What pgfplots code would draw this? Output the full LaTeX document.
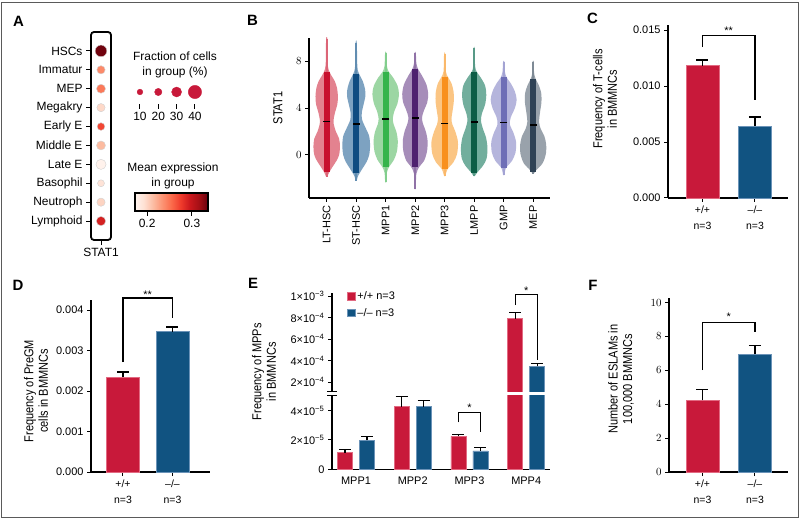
\documentclass[border=0pt]{standalone}
\usepackage{fontspec}
\setmainfont{Liberation Sans}
\newfontfamily\narrowfont[FakeStretch=0.85]{Liberation Sans}
\usepackage{pgfplots}
\pgfplotsset{compat=1.18}
\usepackage{pgfplotstable}

\definecolor{cred}{HTML}{C8193A}
\definecolor{credl}{HTML}{E26A82}
\definecolor{cblue}{HTML}{115381}
\definecolor{cbluel}{HTML}{6B93B8}
\definecolor{framegray}{HTML}{5A5A5A}
% Reds colormap
\definecolor{r0}{RGB}{255,245,240}
\definecolor{r1}{RGB}{254,224,210}
\definecolor{r2}{RGB}{252,187,161}
\definecolor{r3}{RGB}{252,146,114}
\definecolor{r4}{RGB}{251,106,74}
\definecolor{r5}{RGB}{239,59,44}
\definecolor{r6}{RGB}{203,24,29}
\definecolor{r7}{RGB}{165,15,21}
\definecolor{r8}{RGB}{103,0,13}
\pgfplotsset{colormap={reds}{color=(r0) color=(r1) color=(r2) color=(r3) color=(r4) color=(r5) color=(r6) color=(r7) color=(r8)}}
\pgfdeclarehorizontalshading{redsh}{100bp}{color(0bp)=(r0); color(25bp)=(r0); color(31.25bp)=(r1); color(37.5bp)=(r2); color(43.75bp)=(r3); color(50bp)=(r4); color(56.25bp)=(r5); color(62.5bp)=(r6); color(68.75bp)=(r7); color(75bp)=(r8); color(100bp)=(r8)}

% violin colours
\definecolor{v1}{HTML}{C8102E}\definecolor{v1l}{HTML}{E3828F}
\definecolor{v2}{HTML}{0F4C81}\definecolor{v2l}{HTML}{7DA2C1}
\definecolor{v3}{HTML}{35B44B}\definecolor{v3l}{HTML}{9CD6A3}
\definecolor{v4}{HTML}{4E216F}\definecolor{v4l}{HTML}{A68DB9}
\definecolor{v5}{HTML}{F8901E}\definecolor{v5l}{HTML}{FBC583}
\definecolor{v6}{HTML}{0C5E46}\definecolor{v6l}{HTML}{72AE9D}
\definecolor{v7}{HTML}{6E6EB6}\definecolor{v7l}{HTML}{B5B5DC}
\definecolor{v8}{HTML}{2F4255}\definecolor{v8l}{HTML}{99A2AB}

\tikzset{brk/.style={line width=1.1bp, black},
  letter/.style={font=\fontsize{15}{15}\selectfont\bfseries}}
\pgfplotsset{
  ebar/.style={error bars/.cd, y dir=plus, y explicit,
    error bar style={line width=1.2bp, black},
    error mark options={line width=1.2bp, black, mark size=6bp, rotate=90}},
  barax/.style={anchor=south west, scale only axis, axis x line*=bottom, axis y line*=left,
    tick align=outside, major tick length=4bp, axis line style={line width=1.2bp},
    tick style={black, line width=1bp}, scaled y ticks=false,
    xtick={0,1}, xticklabels={{+/+\\n=3},{–/–\\n=3}},
    xticklabel style={align=center, font=\fontsize{10.5}{16}\selectfont},
    yticklabel style={font=\fontsize{11}{12}\selectfont},
    ylabel style={anchor=center, align=center, font=\narrowfont\fontsize{13}{14.5}\selectfont},
    clip=false},
  rbar/.style={ybar, bar width=33bp, bar shift=0pt, fill=cred, draw=credl, line width=0.8bp, ebar},
  bbar/.style={ybar, bar width=33bp, bar shift=0pt, fill=cblue, draw=cbluel, line width=0.8bp, ebar},
  rbarE/.style={ybar, bar width=15bp, bar shift=0pt, fill=cred, draw=credl, line width=0.8bp, ebar},
  bbarE/.style={ybar, bar width=15bp, bar shift=0pt, fill=cblue, draw=cbluel, line width=0.8bp, ebar},
  sq legend/.style={legend image code/.code={\draw[##1, line width=0.6bp] (0bp,-3.7bp) rectangle (7.4bp,3.7bp);}},
}

% violin: pos, outline table (signed half-width), dark, light, min, max, bar low, bar high, median
\newcommand{\violin}[9]{%
  \addplot[fill=#4, draw=none, smooth, forget plot] table[x expr=#1+\thisrow{w}, y=y] {#2};
  \addplot[#4!75!#3, line width=1.8bp, forget plot] coordinates {(#1,#5) (#1,#6)};
  \addplot[#3, line width=6bp, forget plot] coordinates {(#1,#7) (#1,#8)};
  \addplot[only marks, mark=-, mark size=3.6bp, mark options={black, line width=1.8bp}, forget plot] coordinates {(#1,#9)};
}

% violin outlines: right side upward, left side downward
\pgfplotstableread[row sep=\\]{y w\\
-1.86 0.02\\ -1.5 0.08\\ -1.0 0.2\\ -0.5 0.33\\ 0.0 0.42\\ 0.7 0.45\\ 1.4 0.42\\ 2.0 0.31\\ 2.8 0.23\\ 3.6 0.28\\ 4.3 0.36\\ 5.0 0.38\\ 5.7 0.35\\ 6.3 0.27\\ 6.8 0.15\\ 7.3 0.06\\ 8.0 0.03\\ 9.9 0.02\\
9.9 -0.02\\ 8.0 -0.03\\ 7.3 -0.06\\ 6.8 -0.15\\ 6.3 -0.27\\ 5.7 -0.35\\ 5.0 -0.38\\ 4.3 -0.36\\ 3.6 -0.28\\ 2.8 -0.23\\ 2.0 -0.31\\ 1.4 -0.42\\ 0.7 -0.45\\ 0.0 -0.42\\ -0.5 -0.33\\ -1.0 -0.2\\ -1.5 -0.08\\ -1.86 -0.02\\
}\vA
\pgfplotstableread[row sep=\\]{y w\\
-2.2 0.02\\ -1.8 0.06\\ -1.2 0.2\\ -0.6 0.35\\ 0.0 0.44\\ 0.8 0.47\\ 1.6 0.44\\ 2.3 0.32\\ 3.0 0.2\\ 3.6 0.19\\ 4.3 0.25\\ 5.0 0.31\\ 5.6 0.3\\ 6.3 0.22\\ 6.9 0.1\\ 7.5 0.04\\ 9.55 0.02\\
9.55 -0.02\\ 7.5 -0.04\\ 6.9 -0.1\\ 6.3 -0.22\\ 5.6 -0.3\\ 5.0 -0.31\\ 4.3 -0.25\\ 3.6 -0.19\\ 3.0 -0.2\\ 2.3 -0.32\\ 1.6 -0.44\\ 0.8 -0.47\\ 0.0 -0.44\\ -0.6 -0.35\\ -1.2 -0.2\\ -1.8 -0.06\\ -2.2 -0.02\\
}\vB
\pgfplotstableread[row sep=\\]{y w\\
-2.34 0.02\\ -1.5 0.04\\ -1.0 0.12\\ -0.4 0.28\\ 0.3 0.38\\ 1.2 0.41\\ 2.0 0.36\\ 2.6 0.27\\ 3.1 0.24\\ 3.7 0.29\\ 4.4 0.4\\ 5.2 0.45\\ 5.9 0.4\\ 6.6 0.25\\ 7.1 0.1\\ 7.6 0.04\\ 8.7 0.02\\
8.7 -0.02\\ 7.6 -0.04\\ 7.1 -0.1\\ 6.6 -0.25\\ 5.9 -0.4\\ 5.2 -0.45\\ 4.4 -0.4\\ 3.7 -0.29\\ 3.1 -0.24\\ 2.6 -0.27\\ 2.0 -0.36\\ 1.2 -0.41\\ 0.3 -0.38\\ -0.4 -0.28\\ -1.0 -0.12\\ -1.5 -0.04\\ -2.34 -0.02\\
}\vC
\pgfplotstableread[row sep=\\]{y w\\
-2.9 0.02\\ -1.6 0.04\\ -1.0 0.14\\ -0.5 0.3\\ 0.3 0.4\\ 1.2 0.42\\ 2.0 0.36\\ 2.7 0.26\\ 3.2 0.23\\ 3.8 0.3\\ 4.5 0.41\\ 5.2 0.44\\ 6.0 0.38\\ 6.8 0.22\\ 7.3 0.1\\ 7.8 0.04\\ 8.7 0.02\\
8.7 -0.02\\ 7.8 -0.04\\ 7.3 -0.1\\ 6.8 -0.22\\ 6.0 -0.38\\ 5.2 -0.44\\ 4.5 -0.41\\ 3.8 -0.3\\ 3.2 -0.23\\ 2.7 -0.26\\ 2.0 -0.36\\ 1.2 -0.42\\ 0.3 -0.4\\ -0.5 -0.3\\ -1.0 -0.14\\ -1.6 -0.04\\ -2.9 -0.02\\
}\vD
\pgfplotstableread[row sep=\\]{y w\\
-1.8 0.02\\ -1.2 0.1\\ -0.6 0.3\\ 0.1 0.42\\ 1.1 0.45\\ 2.0 0.36\\ 2.6 0.26\\ 3.1 0.23\\ 3.8 0.27\\ 4.6 0.31\\ 5.4 0.3\\ 6.1 0.23\\ 6.6 0.12\\ 7.1 0.04\\ 8.6 0.02\\
8.6 -0.02\\ 7.1 -0.04\\ 6.6 -0.12\\ 6.1 -0.23\\ 5.4 -0.3\\ 4.6 -0.31\\ 3.8 -0.27\\ 3.1 -0.23\\ 2.6 -0.26\\ 2.0 -0.36\\ 1.1 -0.45\\ 0.1 -0.42\\ -0.6 -0.3\\ -1.2 -0.1\\ -1.8 -0.02\\
}\vE
\pgfplotstableread[row sep=\\]{y w\\
-1.8 0.02\\ -1.5 0.1\\ -0.9 0.3\\ -0.3 0.42\\ 0.6 0.45\\ 1.5 0.4\\ 2.2 0.3\\ 2.9 0.23\\ 3.5 0.26\\ 4.3 0.37\\ 5.1 0.41\\ 5.9 0.37\\ 6.6 0.22\\ 7.1 0.08\\ 7.6 0.03\\ 9.07 0.02\\
9.07 -0.02\\ 7.6 -0.03\\ 7.1 -0.08\\ 6.6 -0.22\\ 5.9 -0.37\\ 5.1 -0.41\\ 4.3 -0.37\\ 3.5 -0.26\\ 2.9 -0.23\\ 2.2 -0.3\\ 1.5 -0.4\\ 0.6 -0.45\\ -0.3 -0.42\\ -0.9 -0.3\\ -1.5 -0.1\\ -1.8 -0.02\\
}\vF
\pgfplotstableread[row sep=\\]{y w\\
-1.72 0.02\\ -1.1 0.08\\ -0.5 0.28\\ 0.2 0.4\\ 1.1 0.42\\ 1.9 0.33\\ 2.6 0.21\\ 3.2 0.24\\ 4.0 0.38\\ 4.7 0.44\\ 5.4 0.38\\ 6.1 0.24\\ 6.6 0.1\\ 7.1 0.04\\ 7.94 0.02\\
7.94 -0.02\\ 7.1 -0.04\\ 6.6 -0.1\\ 6.1 -0.24\\ 5.4 -0.38\\ 4.7 -0.44\\ 4.0 -0.38\\ 3.2 -0.24\\ 2.6 -0.21\\ 1.9 -0.33\\ 1.1 -0.42\\ 0.2 -0.4\\ -0.5 -0.28\\ -1.1 -0.08\\ -1.72 -0.02\\
}\vG
\pgfplotstableread[row sep=\\]{y w\\
-1.6 0.02\\ -1.3 0.1\\ -0.7 0.32\\ 0.1 0.43\\ 0.9 0.44\\ 1.6 0.38\\ 2.2 0.26\\ 2.8 0.2\\ 3.6 0.23\\ 4.5 0.28\\ 5.3 0.27\\ 6.0 0.18\\ 6.5 0.08\\ 7.0 0.03\\ 7.94 0.02\\
7.94 -0.02\\ 7.0 -0.03\\ 6.5 -0.08\\ 6.0 -0.18\\ 5.3 -0.27\\ 4.5 -0.28\\ 3.6 -0.23\\ 2.8 -0.2\\ 2.2 -0.26\\ 1.6 -0.38\\ 0.9 -0.44\\ 0.1 -0.43\\ -0.7 -0.32\\ -1.3 -0.1\\ -1.6 -0.02\\
}\vH

% dot plot: row, dot radius (bp), mean expression
\pgfplotstableread{
y r m
1 5.85 0.333
2 4.15 0.238
3 4.5 0.247
4 4.15 0.197
5 3.85 0.270
6 4.5 0.214
7 5.1 0.176
8 3.5 0.190
9 4.15 0.200
10 4.65 0.290
}\dotdata

\begin{document}
\begin{tikzpicture}
\useasboundingbox (0bp,0bp) rectangle (800bp,521bp);
\fill[white] (0bp,0bp) rectangle (800bp,521bp);
\draw[framegray, line width=1.4bp] (1.5bp,3.5bp) rectangle (798.5bp,518.5bp);

% ---------------- A
\node[letter] at (18.5bp,500bp) {A};
\begin{axis}[at={(91bp,281bp)}, anchor=south west, scale only axis, width=20bp, height=208bp,
  xmin=-0.5, xmax=0.5, ymin=0, ymax=11, y dir=reverse, axis line style={draw=none},
  xtick={0}, xticklabels={STAT1}, ytick={1,...,10},
  yticklabels={HSCs,Immatur,MEP,Megakry,Early E,Middle E,Late E,Basophil,Neutroph,Lymphoid},
  xtick pos=bottom, ytick pos=left, tick align=outside, major tick length=5bp,
  tick style={black, line width=1bp},
  tick label style={font=\fontsize{12}{12}\selectfont},
  colormap name=reds, point meta min=0.173, point meta max=0.336, clip=false]
\draw[line width=1.8bp, rounded corners=3bp] (rel axis cs:0,0) rectangle (rel axis cs:1,1);
\addplot[scatter, only marks, mark=*, point meta=\thisrow{m},
  scatter/use mapped color={draw=black!18, fill=mapped color},
  visualization depends on={\thisrow{r} \as \dotr},
  scatter/@pre marker code/.append style={/tikz/mark size=\dotr}] table[x expr=0, y=y] {\dotdata};
\end{axis}
\node[align=center, font=\fontsize{12}{15}\selectfont] at (175bp,456.5bp) {Fraction of cells\\in group (\%)};
\begin{axis}[at={(130.8bp,417bp)}, anchor=south west, scale only axis, width=73.3bp, height=20bp,
  xmin=0.5, xmax=4.5, ymin=0, ymax=1, hide y axis, axis x line*=bottom,
  x axis line style={draw=none}, xtick={1,2,3,4}, xticklabels={10,20,30,40},
  tick align=outside, major tick length=5bp, tick style={black, line width=1bp},
  point meta min=0, point meta max=1,
  tick label style={font=\fontsize{12}{12}\selectfont}, clip=false]
\addplot[scatter, only marks, mark=*, point meta=\thisrow{y},
  scatter/use mapped color={draw=cred, fill=cred},
  visualization depends on={\thisrow{r} \as \dotr},
  scatter/@pre marker code/.append style={/tikz/mark size=\dotr}] table {
x y r
1 0.6 2.85
2 0.6 3.65
3 0.6 5.0
4 0.6 6.65
};
\end{axis}
\node[align=center, font=\fontsize{12}{15}\selectfont] at (173bp,345.5bp) {Mean expression\\in group};
\begin{axis}[at={(135bp,310bp)}, anchor=south west, scale only axis, width=73bp, height=18bp,
  xmin=0.173, xmax=0.336, ymin=0, ymax=1, ytick=\empty, xtick={0.2,0.3},
  xticklabels={0.2,0.3}, xtick pos=bottom, tick align=outside, major tick length=5bp,
  tick style={black, line width=1bp},
  tick label style={font=\fontsize{12}{12}\selectfont},
  axis background/.style={shade, shading=redsh}, axis line style={line width=1.5bp}]
\addplot[draw=none, forget plot] coordinates {(0.2,0.5) (0.3,0.5)};
\end{axis}

% ---------------- B
\node[letter] at (252.5bp,501bp) {B};
\begin{axis}[at={(309bp,323bp)}, anchor=south west, scale only axis, width=241bp, height=160bp,
  xmin=0.4, xmax=8.57, ymin=-3.66, ymax=9.96, axis x line*=bottom, axis y line*=left,
  axis line style={line width=1.2bp}, tick align=outside, major tick length=4bp,
  tick style={black, line width=1bp},
  ytick={0,4,8}, xtick={1,...,8},
  xticklabels={LT-HSC,ST-HSC,MPP1,MPP2,MPP3,LMPP,GMP,MEP},
  xticklabel style={rotate=90, anchor=east, font=\fontsize{11}{12}\selectfont},
  yticklabel style={font=\fontsize{11}{12}\selectfont},
  ylabel={STAT1}, ylabel style={at={(axis description cs:-0.129,0.5625)}, anchor=center, font=\narrowfont\fontsize{13}{14}\selectfont}]
\violin{1}{\vA}{v1}{v1l}{-1.86}{9.9}{-1.44}{7.1}{2.85}
\violin{2}{\vB}{v2}{v2l}{-2.2}{9.55}{-1.49}{6.87}{2.65}
\violin{3}{\vC}{v3}{v3l}{-2.34}{8.7}{-1.0}{7.1}{3.07}
\violin{4}{\vD}{v4}{v4l}{-2.9}{8.7}{-1.0}{7.3}{3.15}
\violin{5}{\vE}{v5}{v5l}{-1.8}{8.6}{-1.15}{6.6}{2.68}
\violin{6}{\vF}{v6}{v6l}{-1.8}{9.07}{-1.55}{7.1}{2.79}
\violin{7}{\vG}{v7}{v7l}{-1.72}{7.94}{-1.07}{6.6}{2.76}
\violin{8}{\vH}{v8}{v8l}{-1.6}{7.94}{-1.44}{6.45}{2.54}
\end{axis}

% ---------------- C
\node[letter] at (592.5bp,503bp) {C};
\begin{axis}[barax, at={(668bp,323bp)}, width=120bp, height=173bp,
  xmin=-0.657, xmax=1.629, ymin=0, ymax=0.01545,
  ytick={0,0.005,0.01,0.015}, yticklabels={0.000,0.005,0.010,0.015},
  ylabel={Frequency of T-cells\\in BMMNCs},
  ylabel style={at={(axis description cs:-0.525,0.572)}}]
\addplot[rbar] coordinates {(0,0.01181) +- (0,0.00051)};
\addplot[bbar] coordinates {(1,0.00643) +- (0,0.0008)};
\draw[brk] (axis cs:0,0.01348) |- (axis cs:1,0.01455) -- (axis cs:1,0.00875);
\node[font=\fontsize{11}{11}\selectfont, yshift=-2.4bp] at (axis cs:0.5,0.01518) {**};
\end{axis}

% ---------------- D
\node[letter] at (18bp,236bp) {D};
\begin{axis}[barax, at={(91bp,49bp)}, width=119bp, height=172bp,
  xmin=-0.646, xmax=1.758, ymin=0, ymax=0.004247,
  ytick={0,0.001,0.002,0.003,0.004}, yticklabels={0.000,0.001,0.002,0.003,0.004},
  ylabel={Frequency of PreGM\\cells in BMMNCs},
  ylabel style={at={(axis description cs:-0.462,0.471)}}]
\addplot[rbar] coordinates {(0,0.00234) +- (0,0.00013)};
\addplot[bbar] coordinates {(1,0.00346) +- (0,0.00012)};
\draw[brk] (axis cs:0,0.002716) |- (axis cs:1,0.004296) -- (axis cs:1,0.003802);
\node[font=\fontsize{11}{11}\selectfont, yshift=-2.4bp] at (axis cs:0.5,0.00444) {**};
\end{axis}

% ---------------- E (broken y axis: lower and upper part)
\node[letter] at (253bp,238bp) {E};
\begin{axis}[barax, at={(332bp,51.7bp)}, width=218bp, height=73.3bp,
  xmin=0.577, xmax=4.42, ymin=0, ymax=5e-5,
  xtick={1,2,3,4}, xticklabels={MPP1,MPP2,MPP3,MPP4},
  xticklabel style={font=\fontsize{11}{12}\selectfont}, xtick style={draw=none},
  ytick={0,2e-5,4e-5}, yticklabels={0,2×10\textsuperscript{−5},4×10\textsuperscript{−5}},
  clip=true, clip mode=individual,
  ylabel={Frequency of MPPs\\in BMMNCs},
  ylabel style={at={(axis description cs:-0.312,1.33)}}]
\addplot[rbarE] coordinates {(0.806,1.14e-5) +- (0,0.23e-5) (1.806,4.26e-5) +- (0,0.68e-5) (2.806,2.24e-5) +- (0,0.14e-5) (3.806,7.88e-4) +- (0,0.58e-4)};
\addplot[bbarE] coordinates {(1.194,1.97e-5) +- (0,0.29e-5) (2.194,4.26e-5) +- (0,0.41e-5) (3.194,1.25e-5) +- (0,0.25e-5) (4.194,3.48e-4) +- (0,0.22e-4)};
\draw[brk] (axis cs:2.806,3.2e-5) |- (axis cs:3.194,3.88e-5) -- (axis cs:3.194,2.53e-5);
\node[font=\fontsize{11}{11}\selectfont, yshift=-2.4bp] at (axis cs:3,4.33e-5) {*};
\end{axis}
\begin{axis}[barax, at={(332bp,129bp)}, width=218bp, height=99bp,
  xmin=0.577, xmax=4.42, ymin=1.09e-4, ymax=1.028e-3, axis x line=none,
  ytick={2e-4,4e-4,6e-4,8e-4,1e-3},
  yticklabels={2×10\textsuperscript{−4},4×10\textsuperscript{−4},6×10\textsuperscript{−4},8×10\textsuperscript{−4},1×10\textsuperscript{−3}},
  clip=true, clip mode=individual, legend cell align=left,
  legend style={draw=none, fill=none, at={(rel axis cs:0.07,1.035)}, anchor=north west,
    font=\fontsize{11}{12}\selectfont, row sep=3bp, inner sep=0pt}]
\addplot[sq legend, rbarE] coordinates {(3.806,7.88e-4) +- (0,0.58e-4)};
\addlegendentry{+/+ n=3}
\addplot[sq legend, bbarE] coordinates {(4.194,3.48e-4) +- (0,0.22e-4)};
\addlegendentry{–/– n=3}
\draw[brk] (axis cs:3.806,9.16e-4) |- (axis cs:4.194,1.018e-3) -- (axis cs:4.194,4.06e-4);
\node[font=\fontsize{11}{11}\selectfont, yshift=-2.4bp] at (axis cs:4,1.074e-3) {*};
\end{axis}
\draw[line width=1.1bp] (327bp,129.5bp) -- (337bp,129.5bp);
\draw[line width=1.1bp] (327bp,125.5bp) -- (337bp,125.5bp);

% ---------------- F
\node[letter] at (593bp,236bp) {F};
\begin{axis}[barax, at={(669bp,49bp)}, width=119bp, height=174bp,
  xmin=-0.638, xmax=1.629, ymin=0, ymax=10.27,
  ytick={0,2,4,6,8,10},
  ylabel={Number of ESLAMs in\\100,000 BMMNCs},
  ylabel style={at={(axis description cs:-0.403,0.534)}}]
\addplot[rbar] coordinates {(0,4.24) +- (0,0.64)};
\addplot[bbar] coordinates {(1,6.95) +- (0,0.51)};
\draw[brk] (axis cs:0,6.02) |- (axis cs:1,8.85) -- (axis cs:1,8.28);
\node[font=\fontsize{11}{11}\selectfont, yshift=-2.4bp] at (axis cs:0.5,9.32) {*};
\end{axis}
\end{tikzpicture}
\end{document}
